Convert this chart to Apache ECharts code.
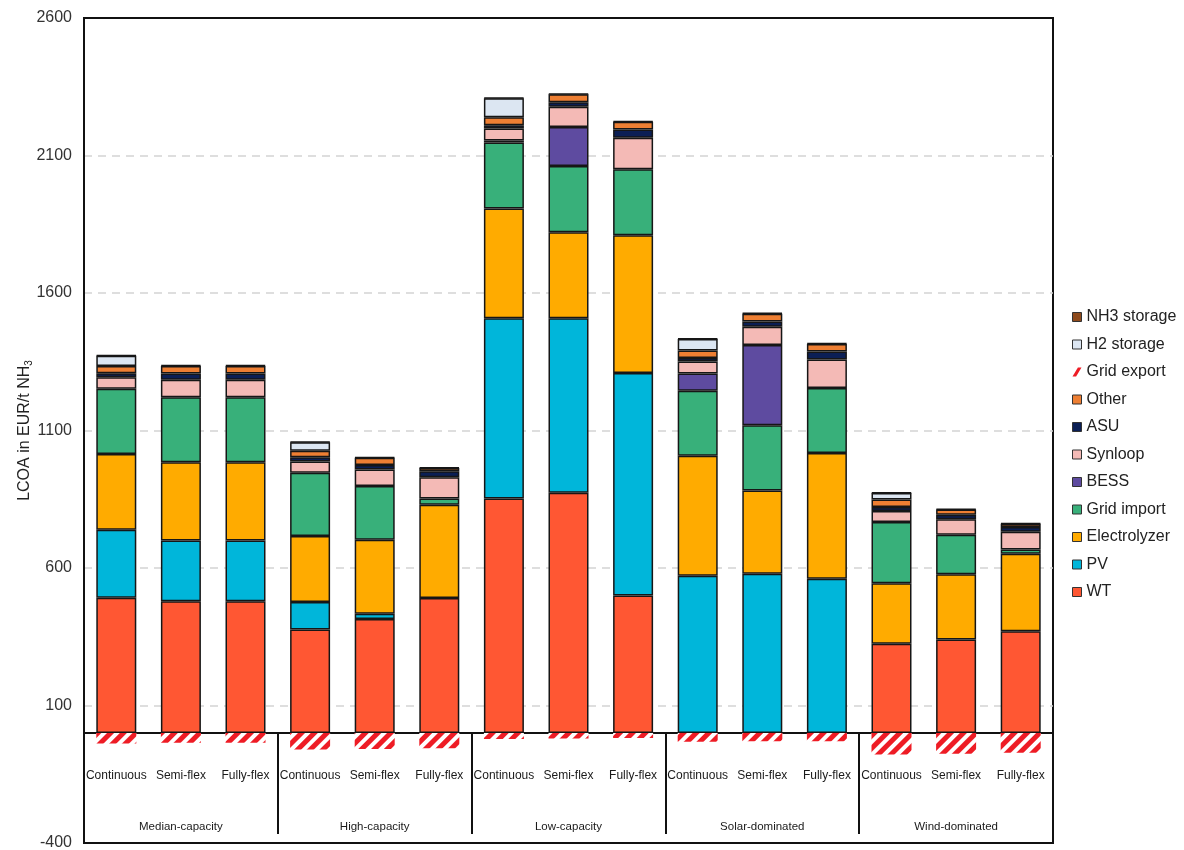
<!DOCTYPE html>
<html>
<head>
<meta charset="utf-8">
<title>LCOA by scenario</title>
<script src="https://cdn.jsdelivr.net/npm/echarts@6/dist/echarts.min.js"></script>
<style>
  html, body { margin: 0; padding: 0; background: #ffffff; }
  #chart { width: 1184px; height: 850px; }
</style>
</head>
<body>
<div id="chart"></div>
<script>
// Scenario groups and operating modes (three bars per group)
const groups = ['Median-capacity', 'High-capacity', 'Low-capacity', 'Solar-dominated', 'Wind-dominated'];
const modes = ['Continuous', 'Semi-flex', 'Fully-flex'];

// Cost components in EUR/t NH3, one value per bar (group x mode)
const WT          = [492, 479, 479, 376, 415, 491, 853, 874, 500,   0,   0,   0, 325, 340, 370];
const PV          = [247, 221, 221, 100,  19,   0, 655, 634, 809, 572, 579, 561,   0,   0,   0];
const Electrolyzer= [276, 285, 285, 240, 269, 339, 399, 313, 501, 436, 303, 457, 220, 237, 282];
const GridImport  = [237, 236, 236, 230, 195,  23, 240, 241, 240, 237, 237, 237, 222, 144,  15];
const BESS        = [  0,   0,   0,   0,   0,   0,   8, 142,   0,  62, 292,   0,   0,   0,   0];
const Synloop     = [ 42,  64,  64,  41,  60,  77,  43,  73, 115,  44,  66, 103,  40,  56,  65];
const ASU         = [ 14,  22,  22,  16,  17,  22,  12,  17,  30,  13,  19,  29,  15,  17,  17];
const Other       = [ 27,  28,  28,  23,  26,  12,  29,  29,  28,  27,  29,  28,  27,  19,  12];
const GridExport  = [-38, -35, -35, -60, -58, -55, -22, -20, -18, -32, -30, -30, -78, -75, -72];
const H2Storage   = [ 37,   0,   0,  31,   0,   0,  69,   0,   0,  42,   0,   0,  24,   0,   0];
const NH3Storage  = [  2,   2,   2,   2,   2,   2,   2,   2,   2,   2,   2,   2,   2,   2,   2];

// Value axis ticks
const yMin = -400, yMax = 2600, yStep = 500;

const FONT = 'Liberation Sans, Arial, Helvetica, sans-serif';
const categories = [];
groups.forEach(() => modes.forEach(m => categories.push(m)));

// Stack order from bottom to top
const components = [
  { name: 'WT',           values: WT,           color: '#FF5733' },
  { name: 'PV',           values: PV,           color: '#00B6DA' },
  { name: 'Electrolyzer', values: Electrolyzer, color: '#FFAB00' },
  { name: 'Grid import',  values: GridImport,   color: '#38B07A' },
  { name: 'BESS',         values: BESS,         color: '#5E4BA0' },
  { name: 'Synloop',      values: Synloop,      color: '#F4BAB6' },
  { name: 'ASU',          values: ASU,          color: '#0B1F55' },
  { name: 'Other',        values: Other,        color: '#EE7F33' },
  { name: 'Grid export',  values: GridExport,   color: '#EE1C25', hatched: true },
  { name: 'H2 storage',   values: H2Storage,    color: '#DCE6F2' },
  { name: 'NH3 storage',  values: NH3Storage,   color: '#8E4A1C' }
];

const series = components.map(c => {
  const s = {
    name: c.name,
    type: 'bar',
    stack: 'lcoa',
    barWidth: 40,
    data: c.values.map(v => (v === 0 ? null : v)),
    itemStyle: { color: c.color, borderColor: '#161616', borderWidth: 1.5 },
    emphasis: { disabled: true }
  };
  if (c.hatched) {
    // red diagonal hatching for the negative (export) share
    s.itemStyle = {
      color: '#ffffff',
      borderWidth: 0,
      decal: {
        symbol: 'rect',
        symbolSize: 1,
        color: c.color,
        dashArrayX: [1, 0],
        dashArrayY: [5, 4],
        rotation: -Math.PI / 4
      }
    };
  }
  return s;
});

// Legend lists the top of the stack first
const legendData = components.slice().reverse().map(c => {
  if (c.hatched) {
    return {
      name: c.name,
      icon: 'path://M0,10 L4,10 L10,0 L6,0 Z',
      itemStyle: { color: c.color, borderWidth: 0, decal: 'none' }
    };
  }
  return { name: c.name };
});

const chart = echarts.init(document.getElementById('chart'), null, { renderer: 'canvas' });

chart.setOption({
  animation: false,
  backgroundColor: '#ffffff',
  textStyle: { fontFamily: FONT },
  grid: {
    left: 84, top: 18, right: 131, bottom: 7,
    show: true, borderColor: '#111111', borderWidth: 2,
    containLabel: false,
    outerBoundsMode: 'none'
  },
  legend: {
    orient: 'vertical',
    left: 1067,
    top: 304,
    itemWidth: 9,
    itemHeight: 9,
    itemGap: 11.5,
    icon: 'rect',
    selectedMode: false,
    data: legendData,
    itemStyle: { borderColor: '#333333', borderWidth: 1 },
    textStyle: { fontFamily: FONT, fontSize: 16, color: '#222222', lineHeight: 16 }
  },
  xAxis: [
    {
      // operating modes; the axis line sits on zero, the labels sit below it inside the frame
      type: 'category',
      data: categories,
      axisLine: { onZero: true, lineStyle: { color: '#111111', width: 2 } },
      axisTick: { show: false },
      axisLabel: { inside: true, interval: 0, margin: 61, fontSize: 12, color: '#1a1a1a', fontFamily: FONT },
      splitLine: { show: false }
    },
    {
      // scenario groups with separators
      type: 'category',
      data: groups,
      position: 'bottom',
      offset: -9,
      axisLine: { show: false },
      axisTick: { show: true, inside: true, length: 100, lineStyle: { color: '#111111', width: 2 } },
      axisLabel: { inside: true, interval: 0, margin: 1, fontSize: 11.5, color: '#1a1a1a', fontFamily: FONT },
      splitLine: { show: false }
    }
  ],
  yAxis: {
    type: 'value',
    min: yMin,
    max: yMax,
    interval: yStep,
    name: 'LCOA in EUR/t NH{s|3}',
    nameLocation: 'middle',
    nameGap: 50,
    nameMoveOverlap: false,
    nameTextStyle: {
      fontFamily: FONT, fontSize: 16, color: '#222222', lineHeight: 18,
      rich: { s: { fontFamily: FONT, fontSize: 10, color: '#222222', verticalAlign: 'bottom', lineHeight: 18 } }
    },
    axisLine: { show: true, lineStyle: { color: '#111111', width: 2 } },
    axisTick: { show: false },
    axisLabel: {
      margin: 12, fontSize: 16, color: '#333333', fontFamily: FONT,
      formatter: v => String(v)
    },
    splitLine: {
      show: true,
      lineStyle: {
        color: ['rgba(0,0,0,0)', '#d4d4d4', '#d4d4d4', '#d4d4d4', '#d4d4d4', '#d4d4d4', 'rgba(0,0,0,0)'],
        width: 1.5,
        type: [8, 6]
      }
    }
  },
  series: series
});
</script>
</body>
</html>
